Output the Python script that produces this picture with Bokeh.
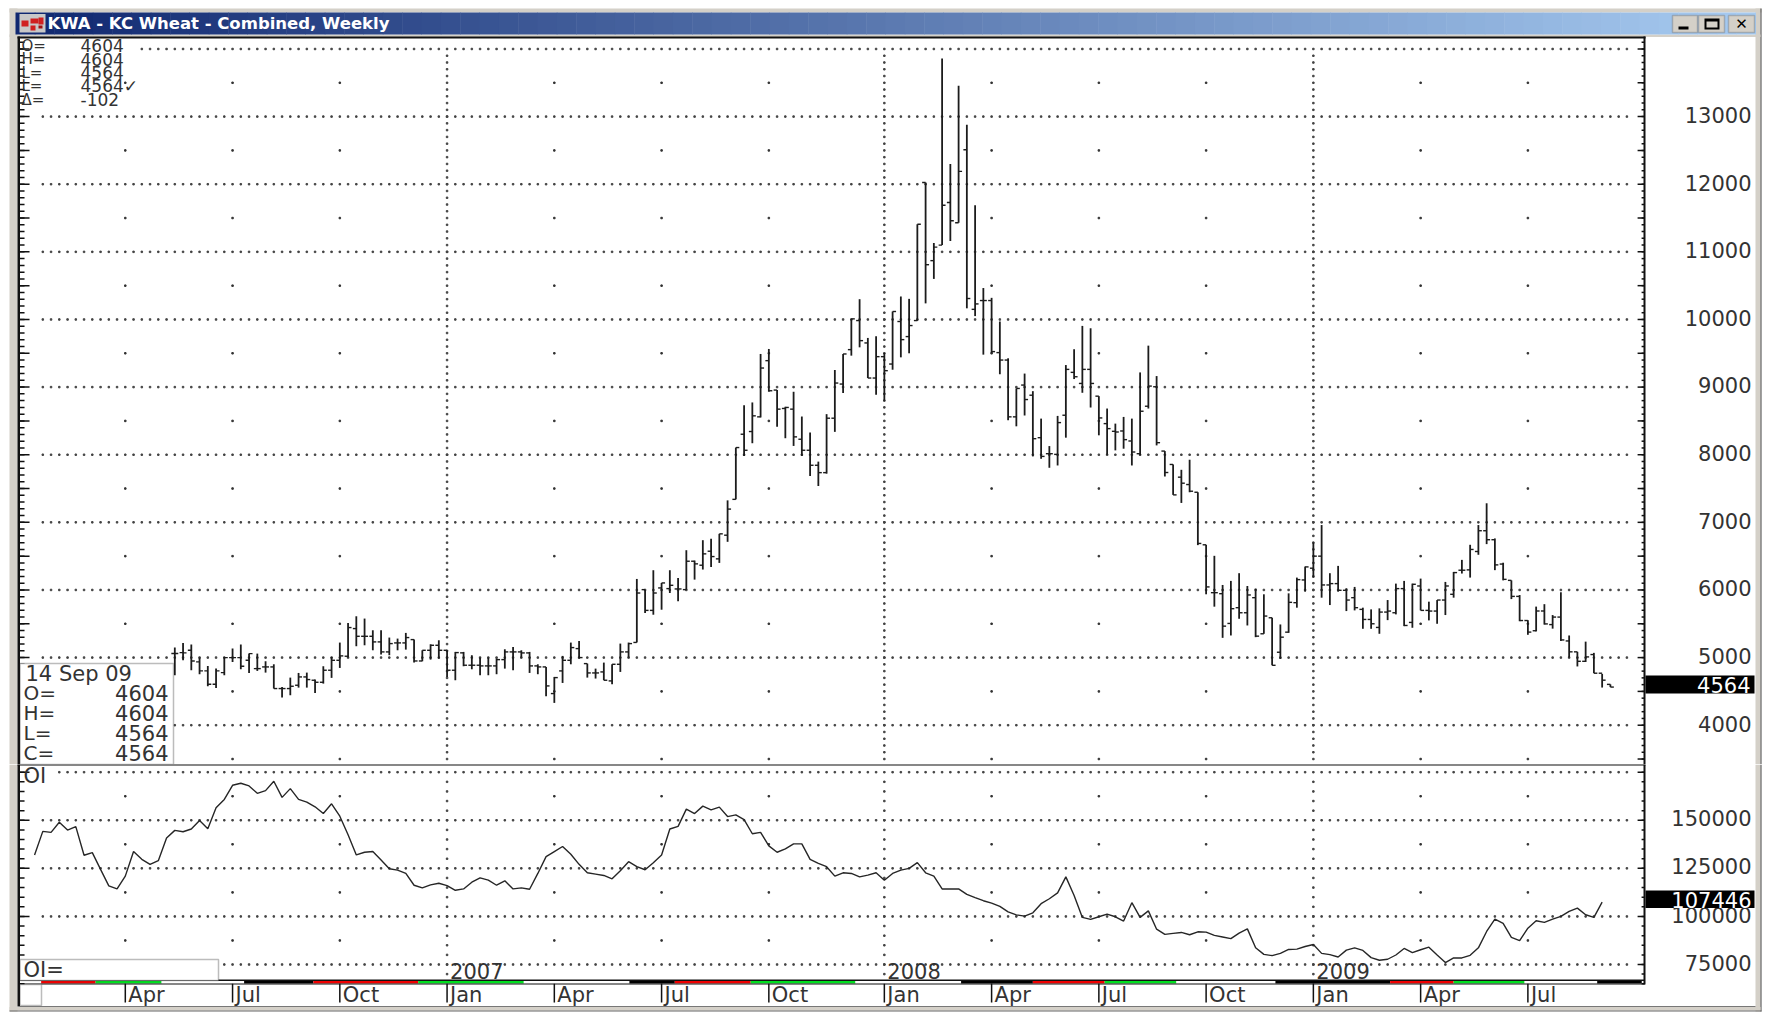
from bokeh.plotting import figure
from bokeh.models import BoxAnnotation, ColumnDataSource, Label, LabelSet, Range1d
from bokeh.layouts import column
from bokeh.core.properties import value
from bokeh.embed import file_html
from bokeh.resources import INLINE

# ---------------------------------------------------------------- data
# week index: 0 = 15 May 2006, 174 = 14 Sep 2009
opens = [5060,5074,5108,4936,4803,4606,4778,5000,5000,4960,4837,4862,4862,4542,4542,4591,4714,4665,4635,4813,
 4960,5020,5429,5315,5315,5232,5084,5217,5217,5266,4950,5108,5182,5108,4813,5070,4887,4887,4877,4877,
 4970,5084,5084,5069,4877,4862,4468,4803,4960,5133,4911,4773,4788,4655,4901,5084,5224,6005,5698,6030,
 6020,6015,6005,6425,6366,6573,6460,6810,7340,8303,8343,8560,9391,8956,8684,8674,8229,8066,7844,7735,
 8540,9045,9554,9984,9653,9134,9450,9341,9970,9747,9984,12025,10870,11100,11730,11430,12510,10150,10280,10280,
 9510,9400,8560,9030,8880,8252,8015,8005,8584,9218,9054,9262,8866,8460,8346,8351,8203,8015,8717,9005,
 8054,7856,7668,7559,7445,6668,5960,5945,5505,5738,5663,5886,5352,5589,5079,5376,5812,6148,6322,6500,
 6074,6094,5995,5886,5713,5564,5446,5673,5663,6020,5520,6059,5698,5688,5851,5936,6292,6297,6569,6876,
 6743,6383,6142,5905,5548,5397,5689,5488,5599,5246,5085,4945,5045,4769,4604]
highs = [5148,5217,5192,5000,4877,4837,5010,5133,5192,5059,5059,4946,4901,4566,4704,4773,4778,4675,4872,5010,
 5222,5513,5611,5577,5404,5404,5296,5281,5365,5266,5108,5197,5256,5108,5084,5084,5035,5000,5000,4985,
 5123,5158,5108,5084,4901,4862,4714,5025,5222,5246,4911,4837,4926,4901,5207,5222,6163,6005,6292,6104,
 6292,6178,6588,6435,6736,6756,6830,7325,8106,8733,8773,9490,9564,8956,8709,8931,8565,8328,7898,8600,
 9253,9490,10009,10300,9727,9752,9505,10118,10340,10305,11408,12025,11130,13860,12300,13455,12880,11690,10465,10320,
 9970,9426,8980,9200,8940,8534,8128,8574,9326,9560,9905,9870,8866,8683,8460,8559,8534,9217,9613,9163,
 8054,7856,7777,7926,7445,6668,6505,6074,6134,6248,6059,6020,5936,5589,5490,5950,6183,6346,6703,6960,
 6248,6356,6025,6045,5738,5713,5728,5851,6094,6134,6094,6168,5827,5851,6119,6267,6445,6668,6960,7282,
 6762,6403,6142,5925,5553,5754,5790,5629,5966,5327,5085,5236,5070,4759,4604]
lows = [4740,4960,4813,4754,4576,4551,4740,4936,4827,4773,4803,4778,4542,4408,4443,4556,4556,4477,4615,4700,
 4847,5000,5168,5182,5108,5044,5035,5108,5118,4926,4946,4970,4985,4714,4665,4872,4827,4739,4739,4754,
 4837,4813,5000,4773,4754,4428,4330,4625,4901,4985,4704,4690,4665,4606,4788,5000,5224,5659,5634,5708,
 5955,5832,6005,6153,6302,6341,6400,6712,7340,7982,8170,8551,8931,8412,8244,8130,7982,7686,7537,7720,
 8338,8911,9465,9588,9134,8887,8798,9257,9440,9500,9984,10238,10600,11100,11160,11430,10165,10050,9480,9500,
 9190,8510,8420,8580,7975,7940,7807,7841,8252,9119,8916,8698,8287,8000,8064,8089,7841,7990,8683,8138,
 7678,7406,7287,7445,6663,5936,5753,5292,5327,5574,5475,5302,5352,4886,4980,5366,5738,5975,6183,5886,
 5777,5975,5688,5698,5426,5426,5352,5554,5639,5465,5441,5698,5550,5500,5629,5886,6243,6183,6520,6678,
 6293,6142,5865,5538,5337,5387,5488,5428,5246,5000,4869,4935,4769,4557,4564]
closes = [5060,5070,4950,4803,4606,4803,5000,5000,4872,5059,4837,4862,4542,4542,4576,4714,4675,4635,4813,4960,
 5025,5444,5315,5315,5232,5084,5207,5217,5296,4950,5108,5182,5108,4813,5074,4887,4887,4877,4877,4970,
 5084,5084,5069,4877,4862,4581,4704,4960,5148,5000,4773,4773,4665,4901,5084,5207,5955,5698,5955,6104,
 6069,6015,6425,6386,6534,6494,6830,7196,8106,8066,8575,9282,8946,8674,8699,8264,8066,7844,7735,8540,
 9060,9490,10009,9687,9134,9450,9243,10118,9702,9910,11408,10810,11070,11690,11460,12190,10310,10230,10280,9525,
 9400,8560,8980,8816,8237,7975,8015,8475,9262,9153,9262,9054,8544,8386,8336,8223,8040,8643,9015,8178,
 7737,7406,7579,7460,6688,6045,5960,5465,5723,5663,5926,5317,5614,4886,5302,5817,6153,6341,6500,6074,
 6094,5995,5851,5738,5564,5500,5673,5688,6020,5475,6084,5698,5688,5851,6059,6257,6292,6599,6876,6743,
 6371,6157,5905,5548,5377,5689,5498,5599,5261,5085,4945,5010,4769,4666,4564]

oi_start_week = -17
open_interest = [131975,144225,143700,148950,144925,146675,131800,133200,124450,115875,114300,120950,133725,129700,127075,129000,140725,
 144750,144050,145450,149825,145625,156475,160850,168200,169250,167850,164000,165400,170300,161900,166450,160850,159450,157000,153500,158575,
 152100,142475,131975,133375,133725,129350,124800,124100,122350,116225,114825,116400,117275,116050,113600,114300,117800,120075,118850,116225,
 118500,114300,114825,114125,122350,131100,133725,136350,132325,127075,122700,122000,121300,119550,123750,128475,125850,124275,127950,131975,
 145450,146850,155775,153500,157350,155425,156825,151925,152800,150350,143000,143700,136700,133375,135125,137750,137750,129700,127600,125850,
 120950,122700,122350,120600,121475,122700,118850,122350,124100,124975,127950,122700,120950,114300,114300,114300,111500,109750,108175,106950,
 105200,102400,100825,100170,101870,106630,109180,112240,120570,110880,99490,98470,99830,101190,99830,97620,107140,99490,102890,93370,
 90650,91160,91670,90480,92010,91840,90140,89290,88440,91330,93540,83680,80280,79600,80790,82830,83000,84360,85380,80790,
 80110,78920,82490,83680,82320,78580,77220,77730,79940,83340,81130,82660,84020,79940,76030,78410,78410,79770,83680,92180,
 98640,96430,89120,87420,93880,97760,96900,98620,100000,102590,104310,100860,99480,107446]

price_labels = [4000,5000,6000,7000,8000,9000,10000,11000,12000,13000]
oi_labels = [75000,100000,125000,150000]
quarter_weeks = [-6,7,20,33,46,59,72,86,99,112,125,138,151,164]
quarter_names = ["Apr","Jul","Oct","Jan","Apr","Jul","Oct","Jan","Apr","Jul","Oct","Jan","Apr","Jul"]
year_weeks = [33,86,138]
year_names = ["2007","2008","2009"]
mid_quarter_weeks = [-6,7,20,46,59,72,99,112,125,151,164]
price_mid_levels = [3500,4500,5500,6500,7500,8500,9500,10500,11500,12500,13500]
oi_mid_levels = [87500,112500,137500,162500]
# contract-month strip above the date axis: start week, end week, colour
strip_start = [-16.2,-9.6,-1.6,8.4,16.8,29.5,42.3,55.1,60.6,69.8,82.5,95.3,104.0,112.7,121.4,133.4,147.3,155.0,163.6,172.4]
strip_end = [-9.6,-1.6,8.4,16.8,29.5,42.3,55.1,60.6,69.8,82.5,95.3,104.0,112.7,121.4,133.4,147.3,155.0,163.6,172.4,177.8]
strip_color = ["#f00000","#00e020","#ffffff","#000000","#f00000","#00e020","#ffffff","#000000","#f00000","#00e020",
               "#ffffff","#000000","#f00000","#00e020","#ffffff","#000000","#f00000","#00e020","#ffffff","#000000"]
readout_names = ["O=","H=","L=","L=","\u0394="]
readout_values = ["4604","4604","4564","4564\u2713","-102"]
box_names = ["O=","H=","L=","C="]
box_values = ["4604","4604","4564","4564"]

# ---------------------------------------------------------------- style
FONT = "DejaVu Sans"
INK = "#333333"
GRAY = "#d4d0c8"
W = 1765
PRICE_H, OI_H = 764, 249
XR = (-21.127, 192.8)
PX_WEEK = 8.25
AX_L, AX_R = -18.82, 178.145

def box(p, top, x0, y0, x1, y1, color, xdata=False, line=None):
    p.add_layout(BoxAnnotation(left=x0, right=x1, top=y0-top, bottom=y1-top,
                               left_units="data" if xdata else "canvas",
                               right_units="data" if xdata else "canvas",
                               top_units="canvas", bottom_units="canvas",
                               fill_color=color, fill_alpha=1,
                               line_color=line, line_width=1.5 if line else 0))

def text(p, top, x, y, s, size, align="left", color=INK, style="normal", font=FONT):
    p.add_layout(Label(x=x, y=y-top, x_units="canvas", y_units="canvas", text=s,
                       text_font=font, text_font_size=f"{size}px", text_color=color,
                       text_align=align, text_baseline="middle", text_font_style=style))

def base(height, yr):
    p = figure(width=W, height=height, x_range=Range1d(*XR), y_range=Range1d(*yr),
               output_backend="svg", toolbar_location=None, x_axis_location=None, y_axis_location=None,
               min_border=0, background_fill_color="white", border_fill_color="white",
               outline_line_color=None)
    p.grid.visible = False
    return p

def scale_ticks(p, major, minor):
    """tick marks inside both vertical axis lines of a panel"""
    for ticks, l_px, r_px in ((minor, 5, 3), (major, 10, 7)):
        p.segment([AX_L]*len(ticks), ticks, [AX_L + l_px/PX_WEEK]*len(ticks), ticks, line_color="#111", line_width=1.5)
        p.segment([AX_R - r_px/PX_WEEK]*len(ticks), ticks, [AX_R]*len(ticks), ticks, line_color="#111", line_width=1.5)

def dots(p, levels, starts, vstep, vtop, vbottom, mids):
    hx = [w for lv, s in zip(levels, starts) for w in range(s, 177)]
    hy = [lv for lv, s in zip(levels, starts) for w in range(s, 177)]
    p.scatter(hx, hy, marker="square", size=1.5, color="#444")
    vy = list(range(vbottom, vtop + 1, vstep))
    p.scatter([w for w in year_weeks for _ in vy], [v for _ in year_weeks for v in vy],
              marker="square", size=1.5, color="#444")
    xs = [w for w in mid_quarter_weeks for _ in mids]
    ys = [m for _ in mid_quarter_weeks for m in mids]
    p.scatter(xs, ys, marker="square", size=1.5, color="#333")

# ---------------------------------------------------------------- price panel
weeks = list(range(len(closes)))
price = base(PRICE_H, (3419, 14717))
levels = list(range(4000, 14001, 1000))
dots(price, levels, [-16]*10 + [-4], 100, 13900, 3500, price_mid_levels)
scale_ticks(price, list(range(3500, 14001, 500)), list(range(3500, 14101, 100)))
price.segment(weeks, highs, weeks, lows, line_color="#1c1c1c", line_width=1.8)
price.segment([w-0.42 for w in weeks], opens, weeks, opens, line_color="#1c1c1c", line_width=1.4)
price.segment(weeks, closes, [w+0.42 for w in weeks], closes, line_color="#1c1c1c", line_width=1.4)

src = ColumnDataSource(dict(y=[v+25 for v in price_labels], t=[str(v) for v in price_labels]))
price.add_layout(LabelSet(x=1751, y="y", text="t", source=src, x_units="canvas",
                          text_font=value(FONT), text_font_size="21px", text_color=INK,
                          text_align="right", text_baseline="middle"))
T = 0
# window chrome
box(price, T, 9, 8, 1761, 12, GRAY)
box(price, T, 9, 8, 17, 764, GRAY)
box(price, T, 1755, 8, 1760, 764, GRAY)
box(price, T, 1760, 8, 1761, 764, "#444")
box(price, T, 9, 34, 1760, 36.5, GRAY)
box(price, T, 17, 36, 1645, 38, "#111")
box(price, T, 17, 36, 19.5, 764, "#111")
box(price, T, 1643, 36, 1645, 764, "#111")
c0, c1 = (16, 40, 112), (166, 202, 240)
N = 90
for k in range(N):
    f = k / (N - 1)
    col = "#%02x%02x%02x" % tuple(round(a + (b - a) * f) for a, b in zip(c0, c1))
    box(price, T, 15 + (1755 - 15) * k / N, 12, 15 + (1755 - 15) * (k + 1) / N + 0.5, 34, col)
# icon
box(price, T, 19, 13.5, 45, 32, "#c8c8c8")
for ix, iy, iw, ih, cc in ((21, 20, 7, 6, "#d02020"), (30, 18, 8, 5, "#d02020"), (38, 17, 5, 7, "#d02020"),
                           (30, 25, 5, 5, "#d02020"), (38, 25, 4, 3, "#a01010")):
    box(price, T, ix, iy, ix + iw, iy + ih, cc)
text(price, T, 47, 23, "KWA - KC Wheat - Combined, Weekly", 16.5, color="white", style="bold")
# window buttons
for bx0, bx1 in ((1672, 1697), (1698, 1724), (1728, 1754)):
    box(price, T, bx0, 15, bx1, 32, "#d4d0c8", line="#555")
box(price, T, 1678, 26, 1688, 29, "#000")
box(price, T, 1704, 18, 1719, 29, "#000")
box(price, T, 1706, 21, 1717, 27, "#d4d0c8")
text(price, T, 1741, 23.5, "\u2715", 15, align="center", color="#000", style="bold")
# readout
for k, (n, v) in enumerate(zip(readout_names, readout_values)):
    y = 45 + k * 13.5
    text(price, T, 21, y, n, 15)
    text(price, T, 80, y, v, 17)
# date box
box(price, T, 19.5, 663, 173, 764, "white", line="#222")
text(price, T, 25, 673, "14 Sep 09", 21)
for k, (n, v) in enumerate(zip(box_names, box_values)):
    y = 692.5 + k * 20
    text(price, T, 23, y, n, 20)
    text(price, T, 168, y, v, 21, align="right")
# last-price tag
box(price, T, 1645, 675, 1754, 693, "#000")
text(price, T, 1750, 684, "4564", 21, align="right", color="white")

# ---------------------------------------------------------------- open interest panel
oi_weeks = [oi_start_week + k for k in range(len(open_interest))]
oi = base(OI_H, (49520, 179004))
dots(oi, [75000, 100000, 125000, 150000, 175000], [-16, -16, -16, -16, -14], 5000, 170000, 70000, oi_mid_levels)
scale_ticks(oi, [75000, 100000, 125000, 150000, 175000], list(range(65000, 180001, 5000)))
oi.line(oi_weeks, open_interest, line_color="#262626", line_width=1.4)
# date-axis tick marks (983..1002 px on the OI scale)
oi.segment(quarter_weeks, [65120]*len(quarter_weeks), quarter_weeks, [55240]*len(quarter_weeks),
           line_color="#111", line_width=1.5)

src2 = ColumnDataSource(dict(y=[v+1000 for v in oi_labels], t=[str(v) for v in oi_labels]))
oi.add_layout(LabelSet(x=1751, y="y", text="t", source=src2, x_units="canvas",
                       text_font=value(FONT), text_font_size="21px", text_color=INK,
                       text_align="right", text_baseline="middle"))
T2 = 764
box(oi, T2, 9, 764, 17, 1011, GRAY)
box(oi, T2, 1755, 764, 1760, 1011, GRAY)
box(oi, T2, 1760, 764, 1761, 1011, "#444")
box(oi, T2, 9, 1006.5, 1760, 1010, GRAY)
box(oi, T2, 9, 1010, 1761, 1011, "#666")
box(oi, T2, 17, 764, 19.5, 1006, "#111")
box(oi, T2, 1643, 764, 1645, 984, "#111")
box(oi, T2, 17, 762.5, 1645, 765, "#111")
# strip
box(oi, T2, 19, 979, 1644, 980.5, "#111")
for a, b, c in zip(strip_start, strip_end, strip_color):
    box(oi, T2, a, 980.5, b, 983, c, xdata=True)
box(oi, T2, 19, 983, 1644, 984, "#111")
box(oi, T2, 19.5, 984, 41, 1005, "white", line="#222")
box(oi, T2, 19, 1005.5, 1755, 1006.5, "#777")
src3 = ColumnDataSource(dict(x=quarter_weeks, t=quarter_names))
oi.add_layout(LabelSet(x="x", y=994-T2, text="t", source=src3, y_units="canvas", x_offset=3,
                       text_font=value(FONT), text_font_size="21px", text_color=INK,
                       text_align="left", text_baseline="middle"))
src4 = ColumnDataSource(dict(x=year_weeks, t=year_names))
oi.add_layout(LabelSet(x="x", y=970-T2, text="t", source=src4, y_units="canvas", x_offset=3,
                       text_font=value(FONT), text_font_size="21px", text_color=INK,
                       text_align="left", text_baseline="middle"))
text(oi, T2, 23, 775, "OI", 21)
box(oi, T2, 19.5, 959, 218, 980, "white", line="#222")
text(oi, T2, 23, 969, "OI=", 21)
box(oi, T2, 1645, 890, 1754, 907.5, "#000")
text(oi, T2, 1751, 899, "107446", 21, align="right", color="white")

open("out.html", "w").write(file_html(column(price, oi, spacing=0), INLINE))
